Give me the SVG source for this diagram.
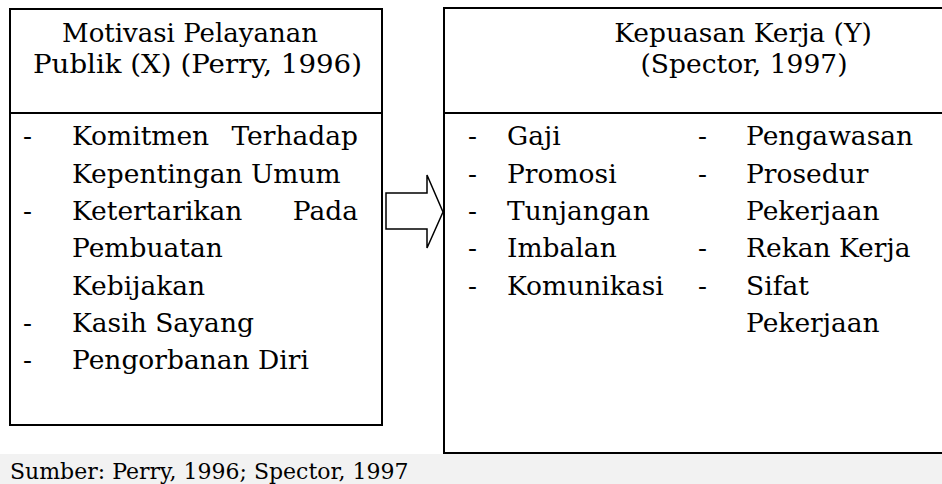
<svg xmlns="http://www.w3.org/2000/svg" width="942" height="484" viewBox="0 0 942 484">
<style>
.t{font-family:"DejaVu Serif","Liberation Serif",serif;font-size:26.5px;fill:#000}
.c{text-anchor:middle}
.e{text-anchor:end}
.f{font-family:"DejaVu Serif","Liberation Serif",serif;font-size:22px;fill:#000}
.box{fill:#fff;stroke:#000;stroke-width:2}
.ln{stroke:#000;stroke-width:2}
</style>
<rect x="0" y="0" width="942" height="484" fill="#fff"/>
<rect x="0" y="454" width="942" height="30" fill="#f2f2f2"/>
<g id="node-x">
<rect class="box" x="10" y="9" width="372" height="416"/>
<line class="ln" x1="10" y1="113" x2="382" y2="113"/>
<text class="t c" x="190" y="42" textLength="256" lengthAdjust="spacingAndGlyphs">Motivasi Pelayanan</text>
<text class="t c" x="197.5" y="73" textLength="329" lengthAdjust="spacingAndGlyphs">Publik (X) (Perry, 1996)</text>
<text class="t" x="23" y="145">-</text>
<text class="t" x="72" y="145">Komitmen</text>
<text class="t e" x="358" y="145">Terhadap</text>
<text class="t" x="72" y="183">Kepentingan Umum</text>
<text class="t" x="23" y="220">-</text>
<text class="t" x="72" y="220">Ketertarikan</text>
<text class="t e" x="358" y="220">Pada</text>
<text class="t" x="72" y="257">Pembuatan</text>
<text class="t" x="72" y="295">Kebijakan</text>
<text class="t" x="23" y="332">-</text>
<text class="t" x="72" y="332">Kasih Sayang</text>
<text class="t" x="23" y="369">-</text>
<text class="t" x="72" y="369">Pengorbanan Diri</text>
</g>
<g id="connectors">
<polygon points="386,193 427,193 427,175 443,212 427,248 427,229 386,229" fill="#fff" stroke="#000" stroke-width="1.5"/>
</g>
<g id="node-y">
<rect class="box" x="444" y="8" width="600" height="445"/>
<line class="ln" x1="444" y1="113" x2="942" y2="113"/>
<text class="t c" x="743" y="42">Kepuasan Kerja (Y)</text>
<text class="t c" x="744" y="73">(Spector, 1997)</text>
<text class="t" x="468" y="145">-</text>
<text class="t" x="507" y="145">Gaji</text>
<text class="t" x="468" y="183">-</text>
<text class="t" x="507" y="183">Promosi</text>
<text class="t" x="468" y="220">-</text>
<text class="t" x="507" y="220">Tunjangan</text>
<text class="t" x="468" y="257">-</text>
<text class="t" x="507" y="257">Imbalan</text>
<text class="t" x="468" y="295">-</text>
<text class="t" x="507" y="295">Komunikasi</text>
<text class="t" x="698" y="145">-</text>
<text class="t" x="746" y="145">Pengawasan</text>
<text class="t" x="698" y="183">-</text>
<text class="t" x="746" y="183">Prosedur</text>
<text class="t" x="746" y="220">Pekerjaan</text>
<text class="t" x="698" y="257">-</text>
<text class="t" x="746" y="257">Rekan Kerja</text>
<text class="t" x="698" y="295">-</text>
<text class="t" x="746" y="295">Sifat</text>
<text class="t" x="746" y="332">Pekerjaan</text>
</g>
<text class="f" x="10" y="479">Sumber: Perry, 1996; Spector, 1997</text>
</svg>
